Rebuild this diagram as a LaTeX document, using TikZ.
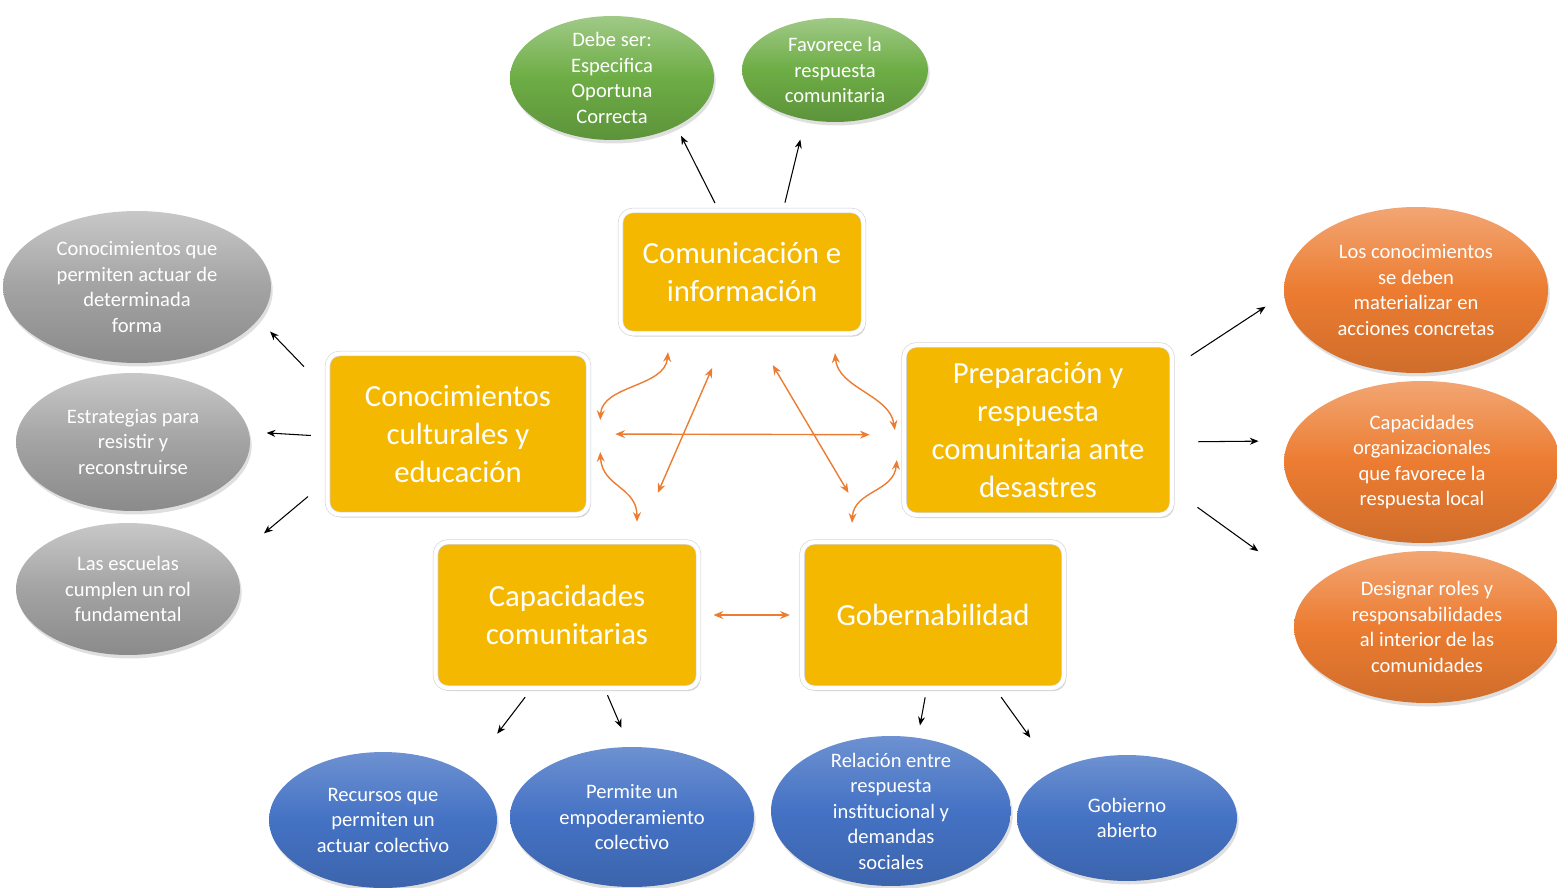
\documentclass[tikz,border=0pt]{standalone}
\usepackage{fontspec}
\setmainfont{Carlito}
\usetikzlibrary{arrows.meta,shapes.geometric,shadows}
\definecolor{oro}{HTML}{F5B800}
\definecolor{verde}{HTML}{6DAD45}
\definecolor{gris}{HTML}{A3A3A3}
\definecolor{naranja}{HTML}{EC7C31}
\definecolor{azul}{HTML}{4472C4}
\tikzset{
  caja/.style={rectangle, rounded corners=7pt, fill=oro, draw=black!18, double=white,
               double distance=2.4pt, line width=0.35pt, outer sep=1.55pt,
               text=white, align=center, inner sep=2pt, font=\fontsize{17.5}{21.5}\selectfont,
               drop shadow={opacity=.3, shadow xshift=1.2pt, shadow yshift=-1.8pt}},
  burbuja/.style={ellipse, inner xsep=0pt, inner ysep=-12pt, text=white, align=center,
                  font=\fontsize{11.7}{14.5}\selectfont,
                  drop shadow={opacity=.25, shadow xshift=1pt, shadow yshift=-2pt}},
  verde/.style={burbuja, top color=verde!65!white, bottom color=verde!85!black, middle color=verde},
  gris/.style={burbuja, top color=gris!60!white, bottom color=gris!85!black, middle color=gris},
  naranja/.style={burbuja, top color=naranja!68!white, bottom color=naranja!88!black, middle color=naranja},
  azul/.style={burbuja, top color=azul!78!white, bottom color=azul!88!black, middle color=azul},
  flecha/.style={-{Stealth[length=5pt,width=4pt]}, line width=0.6pt},
  doble/.style={{Stealth[length=5.5pt,width=4.5pt]}-{Stealth[length=5.5pt,width=4.5pt]},
                draw=naranja, line width=0.8pt},
}

\begin{document}
\begin{tikzpicture}[x=0.02cm, y=-0.02cm]
  \useasboundingbox (0,0) rectangle (1557,888);

  % cajas centrales
  \node[caja, minimum width=4.86cm, minimum height=2.46cm] (com) at (742,272) {Comunicación e\\información};
  \node[caja, minimum width=5.22cm, minimum height=3.22cm] (cul) at (458,434) {Conocimientos\\culturales y\\educación};
  \node[caja, minimum width=5.36cm, minimum height=3.40cm] (pre) at (1038,430) {Preparación y\\respuesta\\comunitaria ante\\desastres};
  \node[caja, minimum width=5.26cm, minimum height=2.92cm] (cap) at (567,615) {Capacidades\\comunitarias};
  \node[caja, minimum width=5.24cm, minimum height=2.92cm] (gob) at (933,615) {Gobernabilidad};

  % burbujas
  \node[verde, minimum width=4.08cm, minimum height=2.48cm] (g1) at (612,78) {Debe ser:\\Especifica\\Oportuna\\Correcta};
  \node[verde, minimum width=3.72cm, minimum height=2.08cm] (g2) at (835,70) {Favorece la\\respuesta\\comunitaria};

  \node[gris, minimum width=5.36cm, minimum height=3.04cm] (s1) at (137,287) {Conocimientos que\\permiten actuar de\\determinada\\forma};
  \node[gris, minimum width=4.68cm, minimum height=2.76cm] (s2) at (133,442) {Estrategias para\\resistir y\\reconstruirse};
  \node[gris, minimum width=4.48cm, minimum height=2.64cm] (s3) at (128,589) {Las escuelas\\cumplen un rol\\fundamental};

  \node[naranja, minimum width=5.28cm, minimum height=3.32cm] (o1) at (1416,290) {Los conocimientos\\se deben\\materializar en\\acciones concretas};
  \node[naranja, minimum width=5.52cm, minimum height=3.24cm] (o2) at (1422,462) {Capacidades\\organizacionales\\que favorece la\\respuesta local};
  \node[naranja, minimum width=5.32cm, minimum height=3.04cm] (o3) at (1427,627) {Designar roles y\\responsabilidades\\al interior de las\\comunidades};

  \node[azul, minimum width=4.56cm, minimum height=2.72cm] (b1) at (383,820) {Recursos que\\permiten un\\actuar colectivo};
  \node[azul, minimum width=4.88cm, minimum height=2.80cm] (b2) at (632,817) {Permite un\\empoderamiento\\colectivo};
  \node[azul, minimum width=4.80cm, minimum height=3.00cm] (b3) at (891,811) {Relación entre\\respuesta\\institucional y\\demandas\\sociales};
  \node[azul, minimum width=4.40cm, minimum height=2.52cm] (b4) at (1127,818) {Gobierno\\abierto};

  % flechas negras
  \draw[flecha, shorten <=3pt, shorten >=6pt] (com.111) -- (g1.-37);
  \draw[flecha, shorten <=3pt, shorten >=11.7pt] (com.57) -- (g2.-121);
  \draw[flecha, shorten <=17pt, shorten >=9.5pt] (cul.161) -- (s1.-15);
  \draw[flecha, shorten <=8pt, shorten >=10pt] (cul.181) -- (s2.5);
  \draw[flecha, shorten <=12.5pt, shorten >=25pt] (cul.200) -- (s3.15);
  \draw[flecha, shorten <=11pt, shorten >=12.5pt] (pre.25) -- (o1.182);
  \draw[flecha, shorten <=13.4pt, shorten >=17pt] (pre.-5) -- (o2.171);
  \draw[flecha, shorten <=16pt, shorten >=37pt] (pre.-24) -- (o3.162);
  \draw[flecha, shorten <=4.6pt, shorten >=28.5pt] (cap.-116) -- (b1.29);
  \draw[flecha, shorten <=2.8pt, shorten >=11.7pt] (cap.-63) -- (b2.92);
  \draw[flecha, shorten <=3.8pt, shorten >=7pt] (gob.-95) -- (b3.70);
  \draw[flecha, shorten <=4.5pt, shorten >=23pt] (gob.-50) -- (b4.147);

  % relaciones entre cajas
  \draw[doble, shorten <=13.7pt, shorten >=18pt] (cul.east) -- (pre.182);
  \draw[doble, shorten <=19.8pt, shorten >=28.8pt] (com.-104) -- (cap.47);
  \draw[doble, shorten <=19.1pt, shorten >=30.7pt] (com.-78) -- (gob.127);
  \draw[doble, shorten <=7pt, shorten >=5.4pt] (cap.east) -- (gob.west);
  \draw[doble] ([shift={(-74,16)}]com.south) .. controls +(-3,35) and +(2,-35) .. ([shift={(9,-14)}]cul.east);
  \draw[doble] ([shift={(93,17)}]com.south) .. controls +(3,35) and +(-5,-35) .. ([shift={(-6.5,0)}]pre.west);
  \draw[doble] ([shift={(9,18)}]cul.east) .. controls +(2,35) and +(0,-35) .. ([shift={(70,-17.5)}]cap.north);
  \draw[doble] ([shift={(-4.5,30)}]pre.west) .. controls +(-3,32) and +(2,-32) .. ([shift={(-81,-16.5)}]gob.north);
\end{tikzpicture}
\end{document}
